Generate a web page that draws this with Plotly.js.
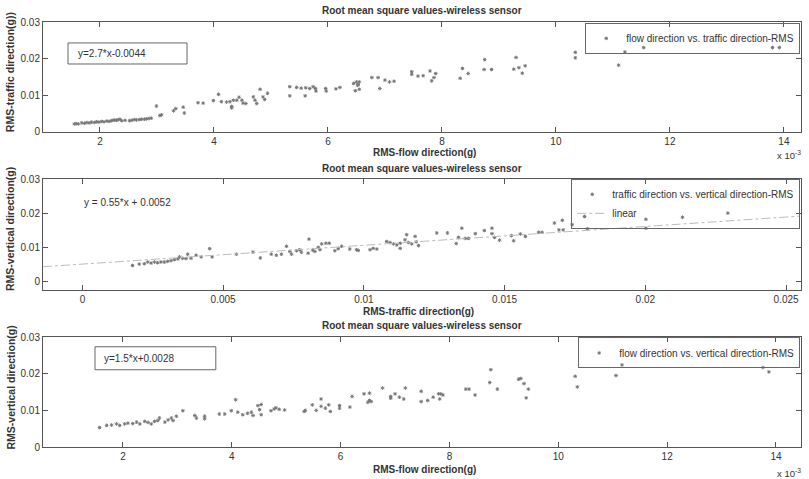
<!DOCTYPE html>
<html>
<head>
<meta charset="utf-8">
<script src="https://cdn.plot.ly/plotly-3.0.1.min.js"></script>
<style>
  html, body { margin: 0; padding: 0; background: #fff; }
  #chart { width: 809px; height: 479px; }
</style>
</head>
<body>
<div id="chart"></div>
<script>
// ---- Panel 1: flow direction (x 10^-3 g) vs traffic direction (g)
const p1Flow = [1.55,1.58,1.62,1.68,1.73,1.77,1.81,1.85,1.90,1.94,1.98,2.03,2.07,2.12,2.16,2.20,2.23,2.26,2.29,2.32,2.35,2.38,2.44,2.52,2.56,2.60,2.64,2.69,2.73,2.78,2.82,2.86,2.90,2.99,3.05,3.08,3.29,3.33,3.46,3.48,3.72,3.81,3.99,4.08,4.13,4.22,4.28,4.31,4.31,4.34,4.40,4.44,4.49,4.51,4.56,4.69,4.72,4.75,4.81,4.86,4.89,4.94,5.33,5.33,5.45,5.53,5.60,5.61,5.68,5.74,5.78,5.79,5.96,5.97,6.14,6.21,6.45,6.50,6.53,6.55,6.48,6.55,6.52,6.77,6.88,6.91,7.00,7.08,7.16,7.47,7.47,7.58,7.67,7.79,7.82,7.86,7.89,8.32,8.36,8.46,8.75,8.74,8.87,9.26,9.30,9.35,9.41,9.46,10.34,10.34,11.10,11.21,11.54,13.80,13.92];
const p1Traffic = [0.0021,0.0022,0.0021,0.0024,0.0023,0.0025,0.0024,0.0026,0.0025,0.0027,0.0026,0.0028,0.0027,0.0029,0.0028,0.0030,0.0031,0.0032,0.0031,0.0033,0.0034,0.0030,0.0031,0.0030,0.0031,0.0033,0.0032,0.0033,0.0034,0.0034,0.0035,0.0036,0.0037,0.0070,0.0044,0.0046,0.0057,0.0063,0.0067,0.0051,0.0079,0.0078,0.0085,0.0102,0.0082,0.0081,0.0082,0.0069,0.0065,0.0086,0.0086,0.0094,0.0086,0.0078,0.0077,0.0095,0.0086,0.0077,0.0116,0.0095,0.0088,0.0105,0.0123,0.0098,0.0121,0.0119,0.0098,0.0120,0.0118,0.0123,0.0118,0.0111,0.0118,0.0111,0.0117,0.0121,0.0132,0.0136,0.0129,0.0136,0.0112,0.0116,0.0127,0.0148,0.0148,0.0118,0.0141,0.0136,0.0138,0.0164,0.0157,0.0152,0.0153,0.0166,0.0139,0.0148,0.0159,0.0146,0.0173,0.0159,0.0197,0.0170,0.0170,0.0171,0.0203,0.0175,0.0160,0.0180,0.0217,0.0202,0.0182,0.0218,0.0230,0.0230,0.0230];

// ---- Panel 2: traffic direction (g) vs vertical direction (g)
const p2Traffic = [0.00178,0.00202,0.00220,0.00232,0.00244,0.00256,0.00267,0.00279,0.00291,0.00303,0.00315,0.00327,0.00339,0.00345,0.00356,0.00368,0.00374,0.00386,0.00404,0.00422,0.00452,0.00461,0.00547,0.00606,0.00632,0.00671,0.00689,0.00707,0.00725,0.00737,0.00743,0.00761,0.00772,0.00778,0.00802,0.00805,0.00818,0.00826,0.00838,0.00844,0.00850,0.00865,0.00877,0.00897,0.00909,0.00921,0.00950,0.00974,0.00980,0.01022,0.01033,0.01046,0.01081,0.01093,0.01105,0.01117,0.01129,0.01129,0.01146,0.01152,0.01158,0.01170,0.01182,0.01186,0.01194,0.01259,0.01297,0.01328,0.01336,0.01348,0.01360,0.01372,0.01396,0.01428,0.01455,0.01455,0.01464,0.01482,0.01524,0.01532,0.01556,0.01574,0.01621,0.01633,0.01677,0.01693,0.01705,0.01708,0.01740,0.01784,0.01794,0.02002,0.02002,0.02132,0.02293];
const p2Vertical = [0.0048,0.0052,0.0053,0.0058,0.0055,0.0058,0.0056,0.0058,0.0058,0.0060,0.0062,0.0065,0.0067,0.0073,0.0069,0.0068,0.0081,0.0069,0.0078,0.0073,0.0097,0.0073,0.0081,0.0087,0.0070,0.0081,0.0078,0.0081,0.0104,0.0089,0.0081,0.0091,0.0094,0.0087,0.0084,0.0125,0.0093,0.0089,0.0101,0.0094,0.0111,0.0113,0.0113,0.0091,0.0097,0.0104,0.0096,0.0094,0.0092,0.0094,0.0098,0.0096,0.0118,0.0115,0.0111,0.0108,0.0113,0.0098,0.0123,0.0138,0.0115,0.0111,0.0133,0.0117,0.0106,0.0143,0.0143,0.0112,0.0130,0.0157,0.0127,0.0127,0.0141,0.0150,0.0157,0.0141,0.0130,0.0122,0.0135,0.0120,0.0140,0.0133,0.0145,0.0145,0.0172,0.0152,0.0180,0.0152,0.0167,0.0191,0.0155,0.0183,0.0157,0.0189,0.0201];
// linear fit shown in panel 2
const fitSlope = 0.55;
const fitIntercept = 0.0052;
const fitXRange = [-0.0014, 0.0255];

// ---- Panel 3: flow direction (x 10^-3 g) vs vertical direction (g)
const p3Flow = [1.57,1.70,1.79,1.88,1.94,2.03,2.09,2.18,2.25,2.31,2.40,2.46,2.52,2.58,2.64,2.67,2.77,2.83,2.89,2.92,2.98,3.10,3.32,3.35,3.50,3.50,3.77,3.87,3.99,4.07,4.11,4.20,4.29,4.36,4.39,4.48,4.54,4.51,4.54,4.72,4.78,4.81,4.87,4.97,5.33,5.35,5.48,5.55,5.64,5.64,5.72,5.78,5.81,5.98,5.98,6.17,6.21,6.43,6.53,6.50,6.53,6.56,6.77,6.92,6.92,7.00,7.08,7.16,7.19,7.48,7.48,7.60,7.70,7.80,7.84,7.88,7.82,8.30,8.36,8.47,8.76,8.74,8.88,9.27,9.31,9.37,9.45,9.41,10.31,10.35,11.06,11.17,13.76,13.87];
const p3Vertical = [0.0053,0.0059,0.0060,0.0063,0.0059,0.0063,0.0065,0.0064,0.0068,0.0063,0.0070,0.0067,0.0063,0.0070,0.0072,0.0079,0.0068,0.0074,0.0079,0.0072,0.0084,0.0099,0.0086,0.0079,0.0084,0.0077,0.0090,0.0090,0.0099,0.0129,0.0095,0.0088,0.0092,0.0095,0.0086,0.0113,0.0116,0.0102,0.0088,0.0099,0.0104,0.0107,0.0103,0.0101,0.0097,0.0100,0.0115,0.0100,0.0131,0.0111,0.0106,0.0115,0.0097,0.0113,0.0106,0.0109,0.0138,0.0145,0.0147,0.0122,0.0127,0.0124,0.0161,0.0138,0.0133,0.0145,0.0136,0.0131,0.0161,0.0152,0.0124,0.0127,0.0136,0.0145,0.0145,0.0142,0.0131,0.0158,0.0158,0.0142,0.0211,0.0176,0.0158,0.0185,0.0187,0.0173,0.0158,0.0134,0.0193,0.0164,0.0195,0.0224,0.0217,0.0205];

// ---- Text
const panelTitle = 'Root mean square values-wireless sensor';
const seriesNames = ['flow direction vs. traffic direction-RMS', 'traffic direction vs. vertical direction-RMS', 'flow direction vs. vertical direction-RMS'];
const fitName = 'linear';
const xLabels = ['RMS-flow direction(g)', 'RMS-traffic direction(g)', 'RMS-flow direction(g)'];
const yLabels = ['RMS-traffic direction(g))', 'RMS-vertical direction(g)', 'RMS-vertical direction(g)'];
const equations = ['y=2.7*x-0.0044', 'y = 0.55*x + 0.0052', 'y=1.5*x+0.0028'];
const flowTicks = [2, 4, 6, 8, 10, 12, 14];
const yTicks = [0, 0.01, 0.02, 0.03];

const FONT = 'Liberation Sans, Arial, sans-serif';
const TXT = '#333';
const MK = {symbol: 'asterisk-open', size: 3, color: '#777', line: {width: 1, color: '#777'}};

const fitY = fitXRange.map(x => fitSlope * x + fitIntercept);

const traces = [
  {type: 'scatter', mode: 'markers', x: p1Flow, y: p1Traffic, xaxis: 'x', yaxis: 'y',
   name: seriesNames[0], marker: MK, legend: 'legend'},
  {type: 'scatter', mode: 'markers', x: p2Traffic, y: p2Vertical, xaxis: 'x2', yaxis: 'y2',
   name: seriesNames[1], marker: MK, legend: 'legend2'},
  {type: 'scatter', mode: 'lines', x: fitXRange, y: fitY, xaxis: 'x2', yaxis: 'y2',
   name: fitName, line: {color: '#bbb', width: 1, dash: 'dashdot'}, legend: 'legend2'},
  {type: 'scatter', mode: 'markers', x: p3Flow, y: p3Vertical, xaxis: 'x3', yaxis: 'y3',
   name: seriesNames[2], marker: MK, legend: 'legend3'}
];

const ax = {
  showline: true, linecolor: '#555', linewidth: 1, mirror: 'ticks',
  ticks: 'inside', ticklen: 5, tickcolor: '#555', tickwidth: 1,
  showgrid: false, zeroline: false,
  tickfont: {family: FONT, size: 10, color: TXT}
};

const legendBase = {
  xref: 'paper', yref: 'paper', xanchor: 'right', yanchor: 'top', x: 0.999,
  bgcolor: 'rgba(255,255,255,0)', bordercolor: '#666', borderwidth: 1,
  font: {family: FONT, size: 10, color: TXT}, tracegroupgap: 0
};

function ann(text, x, y, opts) {
  return Object.assign({text: text, x: x, y: y, xref: 'paper', yref: 'paper',
    xanchor: 'center', yanchor: 'middle',
    showarrow: false, font: {family: FONT, size: 10, color: TXT}}, opts || {});
}

const yLabFont = {family: FONT, size: 10.5, color: TXT};
const annotations = [
  ann('<b>' + panelTitle + '</b>', 0.5, 1.028),
  ann('<b>' + panelTitle + '</b>', 0.5, 0.656),
  ann('<b>' + panelTitle + '</b>', 0.5, 0.286),
  ann('<b>' + xLabels[0] + '</b>', 0.503, 0.694),
  ann('<b>' + xLabels[1] + '</b>', 0.496, 0.320),
  ann('<b>' + xLabels[2] + '</b>', 0.503, -0.052),
  ann('<b>' + yLabels[0] + '</b>', -0.0435, 0.882, {textangle: -90, font: yLabFont}),
  ann('<b>' + yLabels[1] + '</b>', -0.0435, 0.513, {textangle: -90, font: yLabFont}),
  ann('<b>' + yLabels[2] + '</b>', -0.0435, 0.140, {textangle: -90, font: yLabFont}),
  ann('x 10<sup>-3</sup>', 1.003, 0.687, {xanchor: 'right', font: {family: FONT, size: 9.5, color: TXT}}),
  ann('x 10<sup>-3</sup>', 1.003, -0.060, {xanchor: 'right', font: {family: FONT, size: 9.5, color: TXT}}),
  {text: equations[0], xref: 'x domain', yref: 'y domain', x: 0.0435, y: 0.713, xanchor: 'left', yanchor: 'middle',
   showarrow: false, font: {family: FONT, size: 10, color: TXT}},
  {text: equations[1], xref: 'x2 domain', yref: 'y2 domain', x: 0.051, y: 0.786, xanchor: 'left', yanchor: 'middle',
   showarrow: false, font: {family: FONT, size: 10, color: TXT}},
  {text: equations[2], xref: 'x3 domain', yref: 'y3 domain', x: 0.078, y: 0.808, xanchor: 'left', yanchor: 'middle',
   showarrow: false, font: {family: FONT, size: 10, color: TXT}}
];

const shapes = [
  {type: 'rect', xref: 'x domain', yref: 'y domain', x0: 0.033, x1: 0.190, y0: 0.617, y1: 0.809,
   line: {color: '#666', width: 1}, fillcolor: 'rgba(0,0,0,0)'},
  {type: 'rect', xref: 'x3 domain', yref: 'y3 domain', x0: 0.0686, x1: 0.228, y0: 0.703, y1: 0.912,
   line: {color: '#666', width: 1}, fillcolor: 'rgba(0,0,0,0)'}
];

const layout = {
  width: 809, height: 479,
  margin: {l: 43, r: 8, t: 22, b: 31.7, pad: 0},
  paper_bgcolor: '#fff', plot_bgcolor: '#fff',
  showlegend: true,
  font: {family: FONT, size: 10, color: TXT},
  xaxis: Object.assign({}, ax, {domain: [0, 1], anchor: 'y', range: [1.0, 14.3], tickvals: flowTicks}),
  yaxis: Object.assign({}, ax, {domain: [0.742, 1], anchor: 'x', range: [0, 0.03], tickvals: yTicks}),
  xaxis2: Object.assign({}, ax, {domain: [0, 1], anchor: 'y2', range: [-0.0014, 0.02553], tick0: 0, dtick: 0.005}),
  yaxis2: Object.assign({}, ax, {domain: [0.370, 0.630], anchor: 'x2', range: [-0.0023, 0.03], tickvals: yTicks}),
  xaxis3: Object.assign({}, ax, {domain: [0, 1], anchor: 'y3', range: [0.53, 14.46], tickvals: flowTicks}),
  yaxis3: Object.assign({}, ax, {domain: [0, 0.2586], anchor: 'x3', range: [0, 0.03], tickvals: yTicks}),
  legend: Object.assign({}, legendBase, {y: 0.998}),
  legend2: Object.assign({}, legendBase, {y: 0.631}),
  legend3: Object.assign({}, legendBase, {y: 0.2577}),
  annotations: annotations,
  shapes: shapes
};

Plotly.newPlot('chart', traces, layout, {displayModeBar: false, staticPlot: true});
</script>
</body>
</html>
